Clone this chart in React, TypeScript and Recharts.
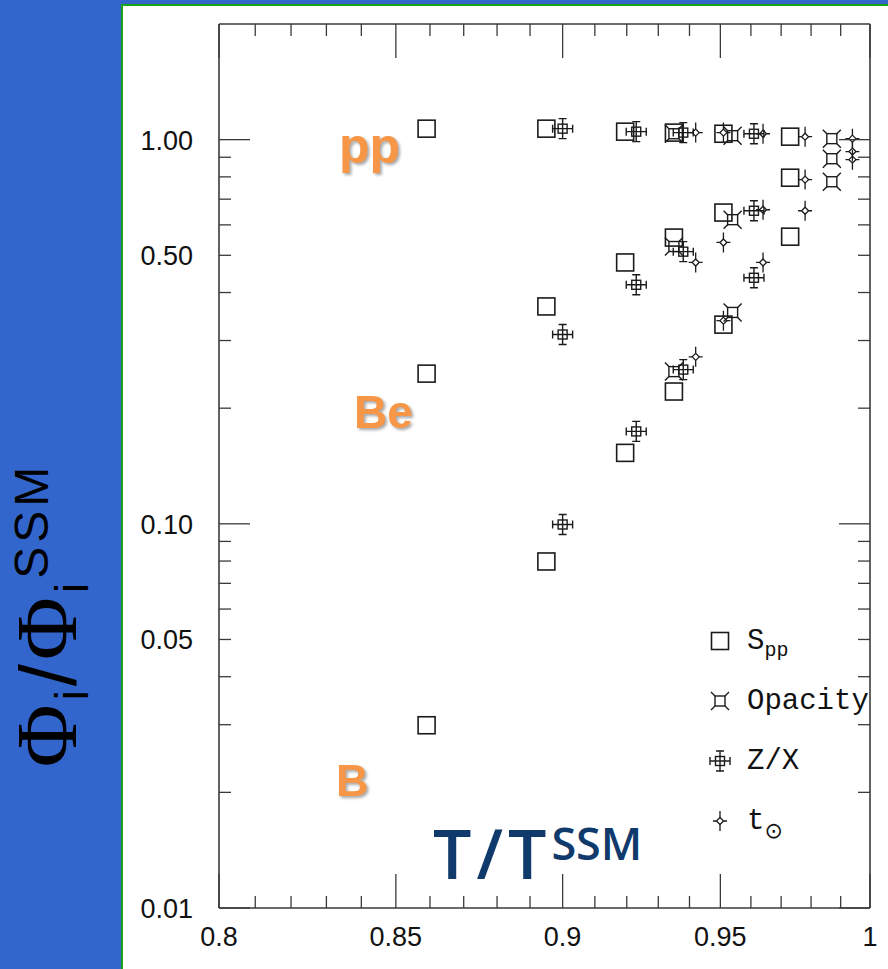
import React from 'react'
import { ScatterChart, Scatter, XAxis, YAxis, Legend } from 'recharts'

// central temperature of each model, T / T_SSM
const sppT = [0.859, 0.895, 0.9195, 0.935, 0.951, 0.973]
const opacityT = [0.935, 0.954, 0.987]
const zxT = [0.9, 0.923, 0.938, 0.961]
const ageT = [0.942, 0.951, 0.964, 0.978, 0.994]

// flux ratios Phi_i / Phi_i^SSM for pp, 7Be and 8B neutrinos
const sppPP = [1.068, 1.068, 1.049, 1.043, 1.036, 1.018]
const sppBe = [0.246, 0.368, 0.479, 0.556, 0.646, 0.796]
const sppB = [0.0299, 0.0798, 0.153, 0.221, 0.33, 0.559]

const opacityPP = [1.036, 1.024, 1.006]
const opacityBe = [0.527, 0.619, 0.892]
const opacityB = [0.249, 0.355, 0.777]

const zxPP = [1.068, 1.049, 1.043, 1.036]
const zxBe = [0.311, 0.419, 0.511, 0.653]
const zxB = [0.0996, 0.174, 0.252, 0.437]

const agePP = [1.043, 1.043, 1.036, 1.018, 1.006]
const ageBe = [0.479, 0.54, 0.657, 0.787, 0.931]
const ageB = [0.272, 0.338, 0.479, 0.653, 0.887]

// axis ticks
const tTicks = [
  0.8, 0.81, 0.82, 0.83, 0.84, 0.85, 0.86, 0.87, 0.88, 0.89, 0.9, 0.91, 0.92, 0.93, 0.94, 0.95,
  0.96, 0.97, 0.98, 0.99, 1,
]
const tMajor = [0.8, 0.85, 0.9, 0.95, 1]
const tLabels = ['0.8', '0.85', '0.9', '0.95', '1']

const fluxTicks = [
  0.01, 0.02, 0.03, 0.04, 0.05, 0.06, 0.07, 0.08, 0.09, 0.1, 0.2, 0.3, 0.4, 0.5, 0.6, 0.7, 0.8,
  0.9, 1,
]
const fluxLong = [0.01, 0.1, 1]
const fluxLabeled = [0.01, 0.05, 0.1, 0.5, 1]
const fluxLabels = ['0.01', '0.05', '0.10', '0.50', '1.00']

type Pt = { t: number; flux: number }
const toPoints = (t: number[], ...rows: number[][]): Pt[] =>
  rows.flatMap((r) => r.map((f, i) => ({ t: t[i], flux: f })))

const INK = '#1b1b1b'
const AXIS = '#3a3a3a'
const TICK_FONT = '"Liberation Sans", Arial, sans-serif'

const SquareMark = ({ cx, cy }: any) => (
  <rect x={cx - 8.5} y={cy - 8.5} width={17} height={17} fill="none" stroke={INK} strokeWidth={1.6} />
)

const OpacityMark = ({ cx, cy }: any) => {
  const h = 5
  const s = 4
  return (
    <g fill="none" stroke={INK} strokeWidth={1.4}>
      <rect x={cx - h} y={cy - h} width={2 * h} height={2 * h} />
      <path
        d={`M${cx - h} ${cy - h}l${-s} ${-s}M${cx + h} ${cy - h}l${s} ${-s}M${cx - h} ${cy + h}l${-s} ${s}M${cx + h} ${cy + h}l${s} ${s}`}
      />
    </g>
  )
}

const ZXMark = ({ cx, cy }: any) => {
  const a = 10
  const c = 4
  return (
    <g fill="none" stroke={INK} strokeWidth={1.4}>
      <rect x={cx - 4.5} y={cy - 4.5} width={9} height={9} />
      <path
        d={`M${cx - a} ${cy}H${cx + a}M${cx} ${cy - a}V${cy + a}M${cx - a} ${cy - c}V${cy + c}M${cx + a} ${cy - c}V${cy + c}M${cx - c} ${cy - a}H${cx + c}M${cx - c} ${cy + a}H${cx + c}`}
      />
    </g>
  )
}

const SunMark = ({ cx, cy }: any) => {
  const r = 3.5
  return (
    <g fill="none" stroke={INK} strokeWidth={1.3}>
      <path d={`M${cx} ${cy - r}L${cx + r} ${cy}L${cx} ${cy + r}L${cx - r} ${cy}Z`} />
      <path
        d={`M${cx - 7} ${cy}H${cx - r}M${cx + r} ${cy}H${cx + 7}M${cx} ${cy - 10}V${cy - r}M${cx} ${cy + r}V${cy + 10}`}
      />
    </g>
  )
}

const SERIES = [
  { name: 'Spp', main: 'S', sub: 'pp', Mark: SquareMark, data: toPoints(sppT, sppPP, sppBe, sppB) },
  { name: 'Opacity', main: 'Opacity', sub: '', Mark: OpacityMark, data: toPoints(opacityT, opacityPP, opacityBe, opacityB) },
  { name: 'Z/X', main: 'Z/X', sub: '', Mark: ZXMark, data: toPoints(zxT, zxPP, zxBe, zxB) },
  { name: 't⊙', main: 't', sub: '⊙', Mark: SunMark, data: toPoints(ageT, agePP, ageBe, ageB) },
]

const BottomTick = ({ x, y, payload }: any) => {
  const idx = tMajor.indexOf(payload.value)
  return (
    <g>
      <line x1={x} x2={x} y1={y} y2={y - (idx >= 0 ? 34 : 12)} stroke={AXIS} strokeWidth={1.3} />
      {idx >= 0 && (
        <text x={x} y={y + 29} textAnchor="middle" dominantBaseline="central" fontFamily={TICK_FONT} fontSize={27} fill="#111">
          {tLabels[idx]}
        </text>
      )}
    </g>
  )
}

const TopTick = ({ x, y, payload }: any) => (
  <line x1={x} x2={x} y1={y} y2={y + (tMajor.includes(payload.value) ? 34 : 12)} stroke={AXIS} strokeWidth={1.3} />
)

const LeftTick = ({ x, y, payload }: any) => {
  const idx = fluxLabeled.indexOf(payload.value)
  return (
    <g>
      <line x1={x} x2={x + (fluxLong.includes(payload.value) ? 31 : 12)} y1={y} y2={y} stroke={AXIS} strokeWidth={1.3} />
      {idx >= 0 && (
        <text x={x - 26} y={y + 1} textAnchor="end" dominantBaseline="central" fontFamily={TICK_FONT} fontSize={27} fill="#111">
          {fluxLabels[idx]}
        </text>
      )}
    </g>
  )
}

const RightTick = ({ x, y, payload }: any) => (
  <line x1={x} x2={x - (fluxLong.includes(payload.value) ? 31 : 12)} y1={y} y2={y} stroke={AXIS} strokeWidth={1.3} />
)

const LegendBox = ({ payload }: any) => {
  const names = (payload || []).map((p: any) => p.value)
  const rows = SERIES.filter((s) => names.includes(s.name))
  return (
    <svg width={290} height={240}>
      {rows.map((s, i) => {
        const y = 28 + i * 60
        const { Mark } = s
        return (
          <g key={s.name}>
            <Mark cx={12} cy={y} />
            <text x={39} y={y} dominantBaseline="central" fontFamily='"Liberation Mono", "Courier New", monospace' fontSize={29} fill="#111">
              {s.main}
              {s.sub && (
                <tspan dy={9} fontSize={s.sub === '⊙' ? 22 : 20} fontFamily={s.sub === '⊙' ? '"DejaVu Sans", sans-serif' : undefined}>
                  {s.sub}
                </tspan>
              )}
            </text>
          </g>
        )
      })}
    </svg>
  )
}

const axisLine = { stroke: AXIS, strokeWidth: 1.6 }
const allPoints = SERIES.flatMap((s) => s.data)

const ORANGE = '#F79646'
const orangeStyle = {
  fontFamily: '"Liberation Sans", Arial, sans-serif',
  fontWeight: 700,
  fill: ORANGE,
  filter: 'drop-shadow(2px 2px 1.5px rgba(0,0,0,0.35))',
}

export default function App() {
  return (
    <div style={{ position: 'absolute', left: 0, top: 0, width: 888, height: 969, background: '#3366CC', overflow: 'hidden' }}>
      <div
        style={{
          position: 'absolute',
          left: 121,
          top: 4,
          width: 767,
          height: 965,
          background: '#fff',
          borderLeft: '2px solid #19A319',
          borderTop: '2px solid #19A319',
          boxSizing: 'border-box',
        }}
      />
      <div style={{ position: 'absolute', left: 123, top: 5 }}>
        <ScatterChart width={765} height={964} margin={{ top: 0, right: 0, bottom: 0, left: 0 }}>
          <XAxis
            xAxisId="bottom"
            type="number"
            dataKey="t"
            scale="log"
            domain={[0.8, 1]}
            ticks={tTicks}
            interval={0}
            tickSize={0}
            tickMargin={0}
            height={61}
            axisLine={axisLine}
            tickLine={false}
            tick={(p: any) => <BottomTick {...p} />}
            allowDataOverflow
          />
          <XAxis
            xAxisId="top"
            orientation="top"
            type="number"
            dataKey="t"
            scale="log"
            domain={[0.8, 1]}
            ticks={tTicks}
            interval={0}
            tickSize={0}
            tickMargin={0}
            height={19}
            axisLine={axisLine}
            tickLine={false}
            tick={(p: any) => <TopTick {...p} />}
            allowDataOverflow
          />
          <YAxis
            yAxisId="left"
            type="number"
            dataKey="flux"
            scale="log"
            domain={[0.01, 2]}
            ticks={fluxTicks}
            interval={0}
            tickSize={0}
            tickMargin={0}
            width={96}
            axisLine={axisLine}
            tickLine={false}
            tick={(p: any) => <LeftTick {...p} />}
            allowDataOverflow
          />
          <YAxis
            yAxisId="right"
            orientation="right"
            type="number"
            dataKey="flux"
            scale="log"
            domain={[0.01, 2]}
            ticks={fluxTicks}
            interval={0}
            tickSize={0}
            tickMargin={0}
            width={18}
            axisLine={axisLine}
            tickLine={false}
            tick={(p: any) => <RightTick {...p} />}
            allowDataOverflow
          />
          {SERIES.map((s) => (
            <Scatter
              key={s.name}
              name={s.name}
              data={s.data}
              xAxisId="bottom"
              yAxisId="left"
              isAnimationActive={false}
              shape={(p: any) => <s.Mark cx={p.cx} cy={p.cy} />}
            />
          ))}
          {/* keeps the mirrored frame axes bound to data */}
          <Scatter
            name="frame"
            data={allPoints}
            xAxisId="top"
            yAxisId="right"
            legendType="none"
            isAnimationActive={false}
            shape={() => <g />}
          />
          <Legend
            layout="vertical"
            align="center"
            verticalAlign="middle"
            wrapperStyle={{ left: 585, top: 608, width: 290, height: 240 }}
            content={(p: any) => <LegendBox payload={p.payload} />}
          />
        </ScatterChart>
      </div>
      <svg width={888} height={969} style={{ position: 'absolute', left: 0, top: 0, pointerEvents: 'none' }}>
        <text x={339} y={163} fontSize={50} style={orangeStyle}>pp</text>
        <text x={354} y={428} fontSize={46} style={orangeStyle}>Be</text>
        <text x={336} y={796} fontSize={45} style={orangeStyle}>B</text>
        <text x={433} y={879} fill="#0F3A6B" fontFamily='"Open Sans", "Noto Sans", sans-serif' fontWeight={600}>
          <tspan fontSize={68} letterSpacing={5}>T/T</tspan>
          <tspan fontSize={45} dx={0} dy={-19}>SSM</tspan>
        </text>
        <text transform="translate(76,615) rotate(-90)" textAnchor="middle" fill="#000" letterSpacing={4}>
          <tspan fontFamily='"Liberation Serif", serif' fontSize={86}>Φ</tspan>
          <tspan fontFamily='"Liberation Sans", sans-serif' fontSize={46} dy={12}>i</tspan>
          <tspan fontFamily='"Liberation Sans", sans-serif' fontSize={80} dy={-12}>/</tspan>
          <tspan fontFamily='"Liberation Serif", serif' fontSize={86}>Φ</tspan>
          <tspan fontFamily='"Liberation Sans", sans-serif' fontSize={46} dy={12}>i</tspan>
          <tspan fontFamily='"Liberation Sans", sans-serif' fontSize={48} dy={-40}>SSM</tspan>
        </text>
      </svg>
    </div>
  )
}
